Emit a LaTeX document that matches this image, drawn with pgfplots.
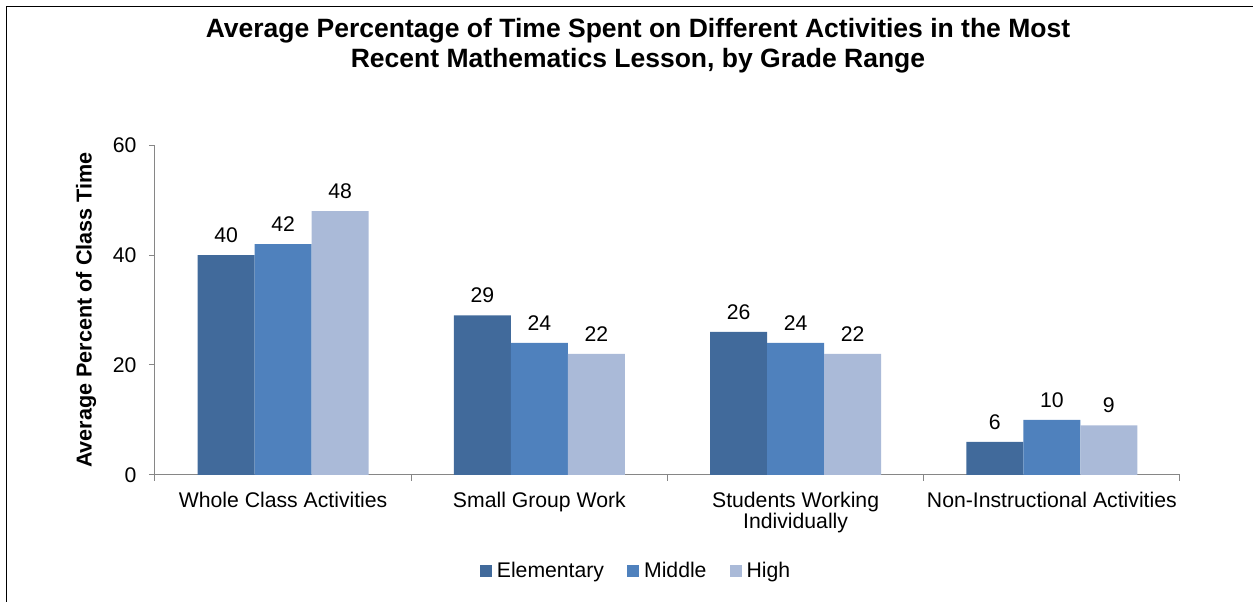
\documentclass[border=0pt]{standalone}
\usepackage{pgfplots}
\pgfplotsset{compat=1.18}
\usepackage{fontspec}
\setmainfont{Liberation Sans}
\definecolor{cElem}{HTML}{416A9B}
\definecolor{cMid}{HTML}{4F81BD}
\definecolor{cHigh}{HTML}{AABAD8}
\definecolor{axgray}{HTML}{868686}
\begin{document}
\begin{tikzpicture}
\path[use as bounding box] (0pt,0pt) rectangle (1253pt,602pt);
\draw[line width=1.2pt, black] (6.5pt,0pt) -- (6.5pt,595.5pt) -- (1253pt,595.5pt);
\node[align=center, font=\fontsize{26.5}{30}\selectfont\bfseries] at (638pt,556pt)
  {Average Percentage of Time Spent on Different Activities in the Most\\Recent Mathematics Lesson, by Grade Range};
\begin{axis}[
  at={(155pt,127pt)}, anchor=south west,
  scale only axis, width=1025pt, height=330pt,
  ybar=0pt, bar width=57pt,
  xmin=-0.5, xmax=3.5, ymin=0, ymax=60,
  axis lines=left, axis line style={-, draw=axgray, line width=1pt},
  xtick={0,1,2,3},
  xticklabels={Whole Class Activities, Small Group Work, {Students Working\\Individually}, Non-Instructional Activities},
  xticklabel style={align=center, font=\fontsize{21.2}{20.5}\selectfont, yshift=-8pt},
  major x tick style={draw=none},
  minor xtick={-0.5,0.5,1.5,2.5,3.5},
  minor x tick style={draw=axgray, line width=1pt},
  ytick={0,20,40,60},
  yticklabel style={font=\fontsize{21.2}{23}\selectfont, xshift=-9pt},
  y tick style={draw=axgray, line width=1pt},
  tick align=outside, major tick length=6pt, minor tick length=6pt,
  /pgf/number format/assume math mode=true,
  ylabel={Average Percent of Class Time},
  every axis y label/.style={at={([xshift=-69pt]axis description cs:0,0.5)}, rotate=90, anchor=center, font=\fontsize{21.6}{24}\selectfont\bfseries},
  nodes near coords,
  every node near coord/.append style={font=\fontsize{21.2}{23}\selectfont, yshift=9pt},
  legend columns=3,
  legend style={at={(axis description cs:0.4693,-0.291)}, anchor=center, draw=none, font=\fontsize{21.2}{23}\selectfont,
    /tikz/every odd column/.append style={column sep=3pt},
    /tikz/every even column/.append style={column sep=21pt}},
  legend image code/.code={\fill[#1] (0pt,-5.5pt) rectangle (12pt,6pt);},
]
\addplot[fill=cElem, draw=none] coordinates {(0,40) (1,29) (2,26) (3,6)};
\addplot[fill=cMid, draw=none] coordinates {(0,42) (1,24) (2,24) (3,10)};
\addplot[fill=cHigh, draw=none] coordinates {(0,48) (1,22) (2,22) (3,9)};
\legend{Elementary, Middle, High}
\end{axis}
\end{tikzpicture}
\end{document}
